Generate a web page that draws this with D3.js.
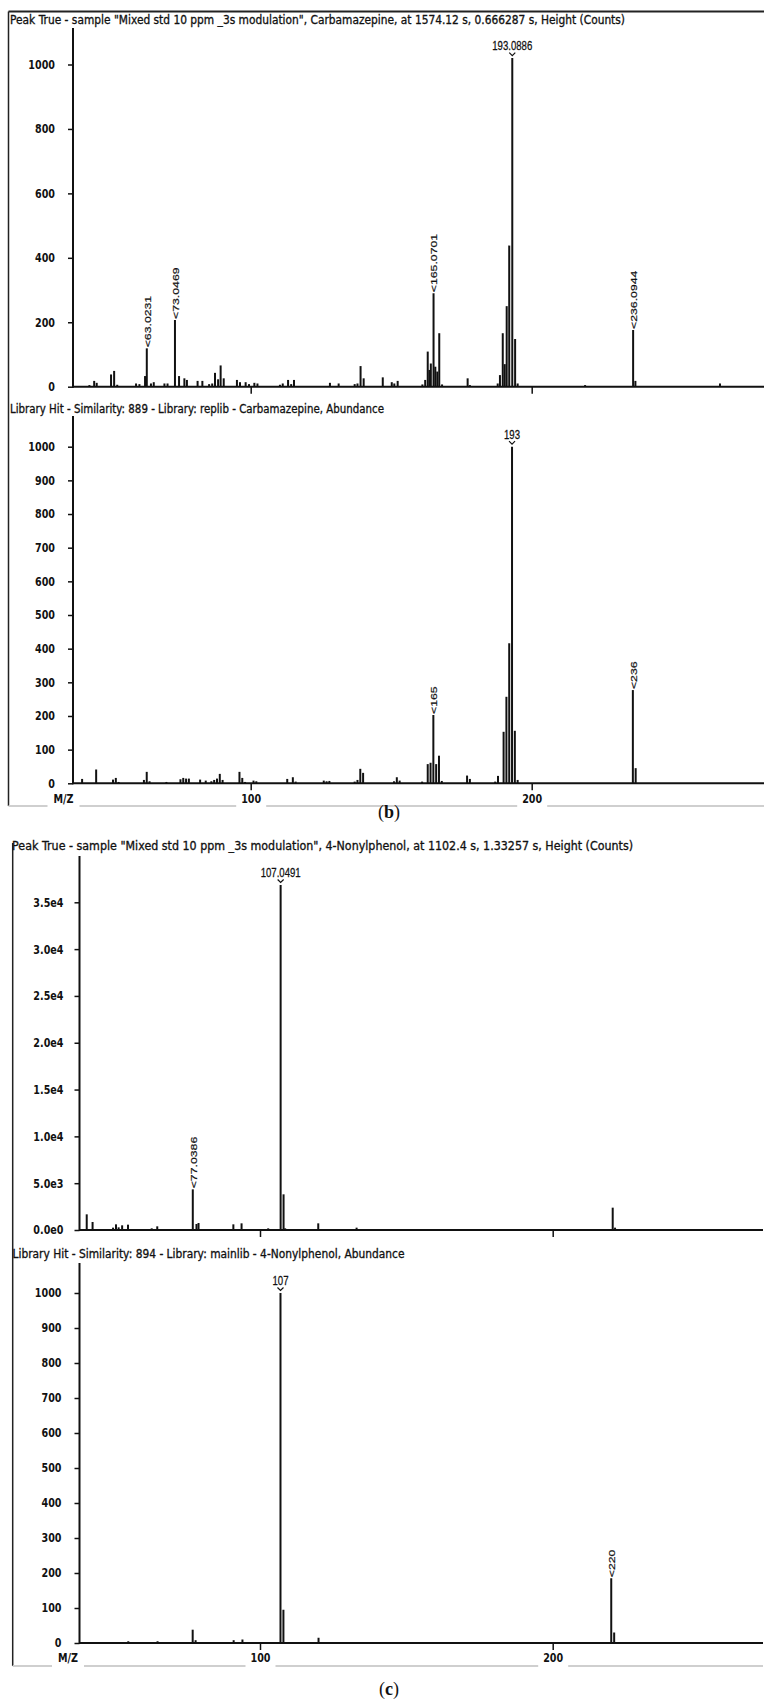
<!DOCTYPE html>
<html>
<head>
<meta charset="utf-8">
<script src="https://cdn.jsdelivr.net/npm/d3@7"></script>
<style>
  body { margin: 0; background: #fff; }
  svg { display: block; }
  .title { font-family: "DejaVu Sans", Verdana, sans-serif; font-size: 9px; fill: #111; stroke: #111; stroke-width: 0.25px; }
  .tick text { font-family: "DejaVu Sans", Verdana, sans-serif; font-size: 9.6px; font-weight: bold; fill: #111; }
  .mzlabel { font-family: "DejaVu Sans", Verdana, sans-serif; font-size: 9.6px; font-weight: bold; fill: #111; }
  .peak { font-family: "Liberation Sans", Arial, sans-serif; font-size: 9.6px; fill: #111; stroke: #111; stroke-width: 0.2px; }
  .caption { font-family: "Liberation Serif", "Times New Roman", serif; font-size: 18px; fill: #111; }
</style>
</head>
<body>
<div id="chart"></div>
<script>
// ---- data ----
const mzTicks = [100, 200];
const countTicks = [0, 200, 400, 600, 800, 1000];
const abundTicks = [0, 100, 200, 300, 400, 500, 600, 700, 800, 900, 1000];
const nonylCountTicks = [0, 5000, 10000, 15000, 20000, 25000, 30000, 35000];

const panelTitles = [
    'Peak True - sample "Mixed std 10 ppm _3s modulation", Carbamazepine, at 1574.12 s, 0.666287 s, Height (Counts)',
    "Library Hit - Similarity: 889 - Library: replib - Carbamazepine, Abundance",
    'Peak True - sample "Mixed std 10 ppm _3s modulation", 4-Nonylphenol, at 1102.4 s, 1.33257 s, Height (Counts)',
    "Library Hit - Similarity: 894 - Library: mainlib - 4-Nonylphenol, Abundance"
];

// (b) Carbamazepine, measured
const carbMz = [42.6, 44.3, 45.2, 50.3, 51.4, 52.5, 59.2, 60.4, 62.4, 63.0231, 64.5, 65.5, 69.3, 70.4,
    73.0469, 74.5, 76.4, 77.3, 81.1, 82.8, 85.2, 86.3, 87.3, 88.4, 89.3, 90.4, 95.1, 96.2, 98.2, 99.4,
    101.3, 102.4, 110.4, 111.4, 113.3, 114.4, 115.4, 128.2, 131.3, 137.0, 138.0, 139.1, 140.2, 147.0,
    150.2, 151.1, 152.3, 161.1, 162.1, 163.0, 163.6, 164.1, 165.0701, 165.7, 166.4, 167.1, 168.1,
    177.2, 178.0, 187.9, 188.7, 189.7, 190.4, 191.1, 192.0, 193.0886, 194.1, 195.0, 219.0,
    236.0944, 236.9, 267.0];
const carbCounts = [5, 18, 12, 38, 49, 6, 10, 8, 33, 119, 10, 14, 10, 10,
    207, 33, 26, 21, 18, 18, 8, 10, 43, 23, 66, 26, 21, 14, 14, 8,
    12, 10, 6, 10, 21, 8, 21, 12, 10, 8, 10, 64, 26, 29,
    14, 10, 18, 7, 21, 109, 52, 72, 290, 62, 47, 166, 7,
    26, 5, 10, 36, 166, 70, 250, 438, 1020, 148, 10, 5,
    176, 18, 10];
const carbLabels = [63.0231, 73.0469, 165.0701, 193.0886, 236.0944];

// (b) Carbamazepine, library
const carbLibMz = [40, 45, 51, 52, 53, 62, 63, 64, 70, 75, 76, 77, 78, 82, 84, 86, 87, 88, 89, 90,
    96, 97, 98, 101, 102, 113, 115, 116, 126, 127, 128, 137, 138, 139, 140, 151, 152, 153, 161,
    163, 164, 165, 166, 167, 168, 177, 178, 187, 188, 190, 191, 192, 193, 194, 195, 236, 237];
const carbLibAbund = [13, 41, 11, 16, 4, 10, 34, 6, 4, 12, 16, 14, 14, 11, 8, 6, 10, 14, 28, 10,
    34, 16, 4, 8, 6, 13, 18, 5, 8, 6, 7, 5, 10, 43, 31, 6, 18, 8, 5,
    57, 61, 203, 57, 82, 7, 23, 13, 5, 22, 153, 257, 416, 1000, 156, 10, 277, 45];
const carbLibLabels = [165, 193, 236];

// (c) 4-Nonylphenol, measured
const nonylMz = [40.8, 42.8, 49.8, 50.8, 51.7, 52.9, 54.9, 63.0, 64.9, 77.0386, 78.3, 79.0, 90.9,
    93.7, 102.8, 107.0491, 108.05, 108.6, 119.9, 133.0, 220.5, 221.3];
const nonylCounts = [1673, 854, 250, 605, 285, 500, 570, 178, 392, 4343, 640, 748, 605,
    712, 178, 36850, 3809, 178, 712, 250, 2385, 250];
const nonylLabels = [77.0386, 107.0491];

// (c) 4-Nonylphenol, library
const nonylLibMz = [55, 65, 77, 78, 91, 94, 107, 108, 120, 220, 221];
const nonylLibAbund = [5, 5, 38, 8, 8, 10, 1000, 95, 15, 185, 30];
const nonylLibLabels = [107, 220];

// ---- drawing ----
const width = 779, height = 1708;
const ink = "#111";
const stretch = 1.28; // the source figure is stretched vertically

const svg = d3.select("#chart").append("svg")
    .attr("width", width)
    .attr("height", height);

function frame(left, top, bottom, right, withTop) {
    if (withTop) {
        svg.append("line")
            .attr("x1", left).attr("x2", right).attr("y1", top).attr("y2", top)
            .attr("stroke", "#222").attr("stroke-width", 2);
    }
    svg.append("line")
        .attr("x1", left).attr("x2", left).attr("y1", top).attr("y2", bottom)
        .attr("stroke", "#222").attr("stroke-width", 1.5);
    svg.append("line")
        .attr("x1", left).attr("x2", right).attr("y1", bottom).attr("y2", bottom)
        .attr("stroke", "#cfcfcf").attr("stroke-width", 2);
}

function drawSpectrum(p) {
    const g = svg.append("g");
    const x = d3.scaleLinear().domain(mzTicks).range([p.x100, p.x200]);
    const y = d3.scaleLinear().domain([0, d3.max(p.yTicks)]).range([p.base, p.topPx]);

    // title
    g.append("text")
        .attr("class", "title")
        .attr("transform", `translate(${p.titleX},${p.titleY}) scale(1,${stretch})`)
        .attr("textLength", p.titleLen)
        .attr("lengthAdjust", "spacingAndGlyphs")
        .text(p.title);

    // y axis
    const ya = g.append("g")
        .attr("transform", `translate(${p.left},0)`)
        .call(d3.axisLeft(y).tickValues(p.yTicks).tickSize(5).tickPadding(p.pad).tickFormat(p.fmt));
    ya.select(".domain").remove();
    ya.selectAll(".tick line").attr("stroke", ink).attr("stroke-width", 1.5);
    ya.selectAll(".tick text").attr("transform", `scale(1,${stretch})`);

    g.append("line")
        .attr("x1", p.left).attr("x2", p.left)
        .attr("y1", p.axisTop).attr("y2", p.base + 1)
        .attr("stroke", ink).attr("stroke-width", 2);

    // x axis
    const xa = g.append("g")
        .attr("transform", `translate(0,${p.base})`)
        .call(d3.axisBottom(x).tickValues(mzTicks).tickSize(7).tickFormat(p.showX ? d3.format("d") : ""));
    xa.select(".domain").remove();
    xa.selectAll(".tick line").attr("stroke", ink).attr("stroke-width", 1.5);
    if (p.showX) {
        xa.selectAll(".tick").insert("rect", "text")
            .attr("x", -15).attr("y", 8).attr("width", 30).attr("height", 18)
            .attr("fill", "#fff");
        xa.selectAll(".tick text")
            .attr("y", null)
            .attr("dy", "0.35em")
            .attr("transform", `translate(0,15) scale(1,${stretch})`);

        g.append("rect")
            .attr("x", p.mzLabelX - 16).attr("y", p.base + 8)
            .attr("width", 32).attr("height", 18)
            .attr("fill", "#fff");
        g.append("text")
            .attr("class", "mzlabel")
            .attr("text-anchor", "middle")
            .attr("dy", "0.35em")
            .attr("transform", `translate(${p.mzLabelX},${p.base + 15}) scale(1,${stretch})`)
            .text("M/Z");
    }

    g.append("line")
        .attr("x1", p.left).attr("x2", p.right)
        .attr("y1", p.base).attr("y2", p.base)
        .attr("stroke", ink).attr("stroke-width", 2);

    // peaks
    const peaks = p.mz.map((m, i) => ({ mz: m, v: p.vals[i] }));
    g.selectAll(".bar")
        .data(peaks)
        .join("line")
        .attr("class", "bar")
        .attr("x1", d => x(d.mz)).attr("x2", d => x(d.mz))
        .attr("y1", p.base)
        .attr("y2", d => y(d.v))
        .attr("stroke", ink)
        .attr("stroke-width", 2);

    // peak labels: tallest gets a flat label, the rest run upwards
    const maxV = d3.max(p.vals);
    const labelled = peaks.filter(d => p.labels.includes(d.mz));
    labelled.forEach(d => {
        const px = x(d.mz), py = y(d.v);
        if (d.v === maxV) {
            g.append("path")
                .attr("d", `M${px - 3},${py - 5.5}L${px},${py - 2.5}L${px + 3},${py - 5.5}`)
                .attr("fill", "none").attr("stroke", ink).attr("stroke-width", 1.2);
            g.append("text")
                .attr("class", "peak")
                .attr("text-anchor", "middle")
                .attr("transform", `translate(${px},${py - 8}) scale(1,${stretch})`)
                .text(String(d.mz));
        } else {
            g.append("text")
                .attr("class", "peak")
                .attr("dy", "0.35em")
                .attr("transform", `translate(${px + 0.5},${py - 1}) scale(1,${stretch}) rotate(-90)`)
                .text("<" + String(d.mz));
        }
    });
}

// panel frames
frame(8.5, 11.5, 806, 764, true);
frame(12.7, 843, 1666, 763, false);

drawSpectrum({
    title: panelTitles[0], titleX: 10, titleY: 24, titleLen: 615,
    x100: 250.7, x200: 531.7, left: 73, right: 764,
    base: 386.7, topPx: 64.5, axisTop: 28,
    yTicks: countTicks, pad: 13, fmt: d3.format("d"), showX: false,
    mz: carbMz, vals: carbCounts, labels: carbLabels
});

drawSpectrum({
    title: panelTitles[1], titleX: 10, titleY: 413, titleLen: 374,
    x100: 250.7, x200: 531.7, left: 73, right: 764,
    base: 783.3, topPx: 446.7, axisTop: 416,
    yTicks: abundTicks, pad: 13, fmt: d3.format("d"), showX: true, mzLabelX: 63.5,
    mz: carbLibMz, vals: carbLibAbund, labels: carbLibLabels
});

const sciFmt = v => d3.format(".1e")(v).replace("+", "");

drawSpectrum({
    title: panelTitles[2], titleX: 12, titleY: 850, titleLen: 621,
    x100: 260, x200: 552.7, left: 79.5, right: 763,
    base: 1230, topPx: 902.3, axisTop: 856,
    yTicks: nonylCountTicks, pad: 11, fmt: sciFmt, showX: false,
    mz: nonylMz, vals: nonylCounts, labels: nonylLabels
});

drawSpectrum({
    title: panelTitles[3], titleX: 12.5, titleY: 1258, titleLen: 392,
    x100: 260, x200: 552.7, left: 79.5, right: 763,
    base: 1643, topPx: 1293, axisTop: 1263,
    yTicks: abundTicks, pad: 13, fmt: d3.format("d"), showX: true, mzLabelX: 68,
    mz: nonylLibMz, vals: nonylLibAbund, labels: nonylLibLabels
});

// sub-figure captions
[["b", 818], ["c", 1695]].forEach(([letter, yPos]) => {
    const t = svg.append("text")
        .attr("class", "caption")
        .attr("x", 389).attr("y", yPos)
        .attr("text-anchor", "middle");
    t.append("tspan").text("(");
    t.append("tspan").attr("font-weight", "bold").text(letter);
    t.append("tspan").text(")");
});
</script>
</body>
</html>
